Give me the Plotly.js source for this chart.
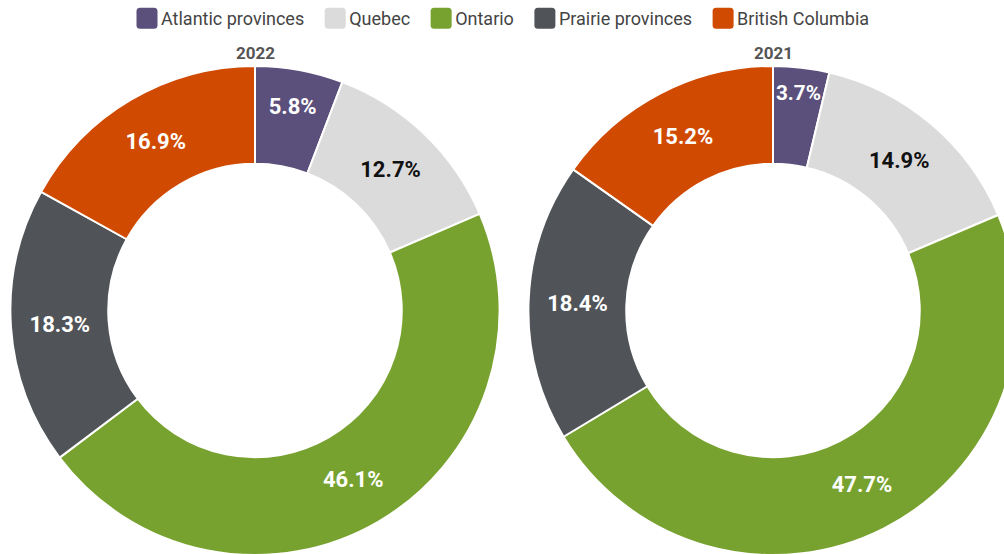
<!DOCTYPE html>
<html>
<head>
<meta charset="utf-8">
<script src="https://cdn.plot.ly/plotly-3.0.1.min.js"></script>
<style>
html,body{margin:0;padding:0;overflow:hidden;background:#fff;width:1004px;height:554px;}
#chart{position:absolute;left:0;top:0;}
</style>
</head>
<body>
<div id="chart"></div>
<script>
const regions = ["Atlantic provinces", "Quebec", "Ontario", "Prairie provinces", "British Columbia"];
const values2022 = [5.8, 12.7, 46.1, 18.3, 16.9];
const values2021 = [3.7, 14.9, 47.7, 18.4, 15.2];
const colors = ["#5b4f7b", "#dcdbdc", "#78a22f", "#505458", "#d04a02"];
const textColors = ["#ffffff", "#111111", "#ffffff", "#ffffff", "#ffffff"];
const years = ["2022", "2021"];

const W = 1040, H = 600;
function dom(cx, cy, r) {
  return {x: [(cx - r) / W, (cx + r) / W], y: [1 - (cy + r) / H, 1 - (cy - r) / H]};
}

function pie(vals, d, show) {
  return {
    type: "pie",
    labels: regions,
    values: vals,
    sort: false,
    direction: "clockwise",
    rotation: 0,
    hole: 0.6,
    domain: d,
    marker: {colors: colors, line: {color: "#ffffff", width: 2}},
    texttemplate: "%{value}%",
    textposition: "inside",
    insidetextorientation: "horizontal",
    textfont: {family: "Roboto", size: 22, color: textColors, weight: 700},
    showlegend: show,
    hoverinfo: "label+value"
  };
}

const data = [
  pie(values2022, dom(255, 310, 245), true),
  pie(values2021, dom(773, 310, 245), false)
];

const layout = {
  width: W, height: H,
  margin: {l: 0, r: 0, t: 0, b: 0},
  paper_bgcolor: "#ffffff",
  font: {family: "Roboto", color: "#444444"},
  legend: {
    orientation: "h", x: 498 / W, xanchor: "center", y: 1 - 18 / H, yanchor: "middle",
    font: {size: 18, color: "#444444"}, traceorder: "normal", itemclick: false, itemwidth: 30
  },
  annotations: [
    {text: "<b>" + years[0] + "</b>", x: 255 / W, y: 1 - 52 / H, xref: "paper", yref: "paper", xanchor: "center", yanchor: "middle", showarrow: false, font: {size: 17, color: "#555555"}},
    {text: "<b>" + years[1] + "</b>", x: 773 / W, y: 1 - 52 / H, xref: "paper", yref: "paper", xanchor: "center", yanchor: "middle", showarrow: false, font: {size: 17, color: "#555555"}}
  ]
};

Plotly.newPlot("chart", data, layout, {displayModeBar: false, staticPlot: true}).then(function () {
  document.querySelectorAll(".legend .legendpoints path").forEach(function (p) {
    p.setAttribute("d", "M-4,-6H4A2,2 0 0 1 6,-4V4A2,2 0 0 1 4,6H-4A2,2 0 0 1 -6,4V-4A2,2 0 0 1 -4,-6Z");
    p.setAttribute("transform", "translate(26,0) scale(1.75)");
    p.style.strokeWidth = "0";
  });
});
</script>
</body>
</html>
